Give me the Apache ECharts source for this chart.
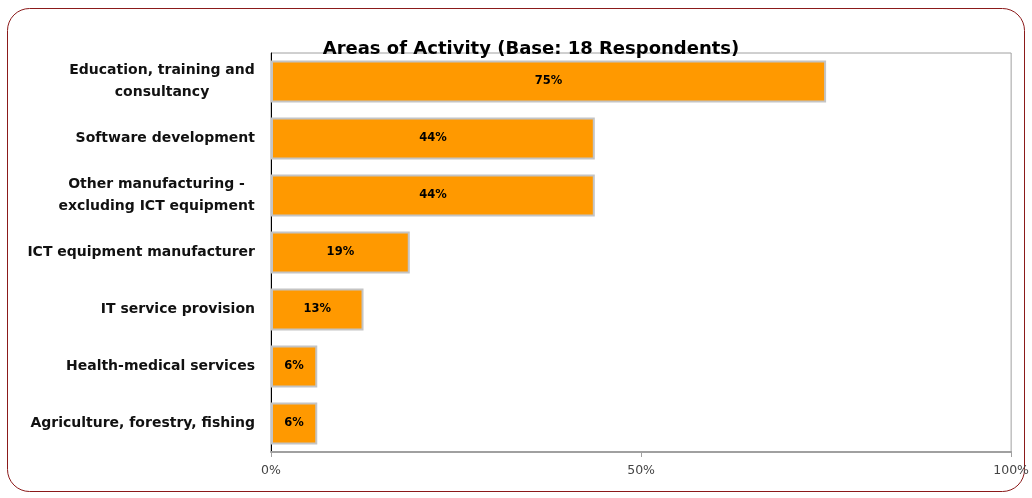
<!DOCTYPE html>
<html>
<head>
<meta charset="utf-8">
<script src="https://cdn.jsdelivr.net/npm/echarts@6/dist/echarts.min.js"></script>
<style>
	html, body { margin: 0; padding: 0; background: #fff; }
	#chart { width: 1032px; height: 498px; }
</style>
</head>
<body>
<div id="chart"></div>
<script>
	// categories top to bottom
	var categories = [
		'Education, training and\nconsultancy',
		'Software development',
		'Other manufacturing -\nexcluding ICT equipment',
		'ICT equipment manufacturer',
		'IT service provision',
		'Health-medical services',
		'Agriculture, forestry, fishing'
	];
	var shares = [75, 43.75, 43.75, 18.75, 12.5, 6.25, 6.25];
	var xTicks = [0, 50, 100];

	var font = 'DejaVu Sans';
	var labelSize = 14;

	// width of the longest line, so wrapped labels can be centred line by line
	var ctx = document.createElement('canvas').getContext('2d');
	ctx.font = 'bold ' + labelSize + 'px "' + font + '"';
	var rich = {};
	categories.forEach(function (c, i) {
		if (c.indexOf('\n') < 0) return;
		var w = Math.max.apply(null, c.split('\n').map(function (p) { return ctx.measureText(p).width; }));
		rich['l' + i] = { width: Math.ceil(w), align: 'center', fontFamily: font, fontSize: labelSize, fontWeight: 'bold', color: '#111', lineHeight: 22 };
	});

	var chart = echarts.init(document.getElementById('chart'));

	chart.setOption({
		animation: false,
		title: {
			text: 'Areas of Activity (Base: 18 Respondents)',
			left: 526,
			textAlign: 'center',
			top: 35,
			textStyle: {
				fontFamily: font,
				fontSize: 18,
				fontWeight: 'bold',
				color: '#000'
			}
		},
		graphic: [{
			type: 'rect',
			shape: { x: 7.5, y: 8.5, width: 1017, height: 483, r: 22 },
			style: { fill: 'none', stroke: '#8b1a1a', lineWidth: 1 },
			silent: true
		}],
		grid: {
			left: 271,
			right: 17,
			top: 53,
			bottom: 46,
			show: true,
			borderColor: '#a0a0a0',
			borderWidth: 1
		},
		xAxis: {
			type: 'value',
			min: 0,
			max: 100,
			interval: 50,
			axisLine: { show: true, lineStyle: { color: '#a0a0a0', width: 2 } },
			axisTick: { show: true, length: 5, lineStyle: { color: '#a0a0a0' } },
			splitLine: { show: false },
			axisLabel: {
				margin: 12,
				fontFamily: font,
				fontSize: 12.5,
				color: '#444',
				formatter: function (v) {
					return xTicks.indexOf(v) >= 0 ? v + '%' : '';
				}
			}
		},
		yAxis: {
			type: 'category',
			data: categories,
			inverse: true,
			axisLine: { show: true, lineStyle: { color: '#000', width: 1 } },
			axisTick: { show: false },
			axisLabel: {
				margin: 16,
				fontFamily: font,
				fontSize: labelSize,
				fontWeight: 'bold',
				color: '#111',
				lineHeight: 22,
				formatter: function (v, i) {
					if (v.indexOf('\n') < 0) return v;
					return v.split('\n').map(function (p) { return '{l' + i + '|' + p + '}'; }).join('\n');
				},
				rich: rich
			}
		},
		series: [{
			type: 'bar',
			data: shares,
			barCategoryGap: '26%',
			itemStyle: {
				color: '#ff9900',
				borderColor: '#c4c4c4',
				borderWidth: 2
			},
			label: {
				show: true,
				position: 'inside',
				fontFamily: font,
				fontSize: 11.5,
				fontWeight: 'bold',
				color: '#000',
				formatter: function (p) { return Math.round(p.value) + '%'; }
			}
		}]
	});
</script>
</body>
</html>
